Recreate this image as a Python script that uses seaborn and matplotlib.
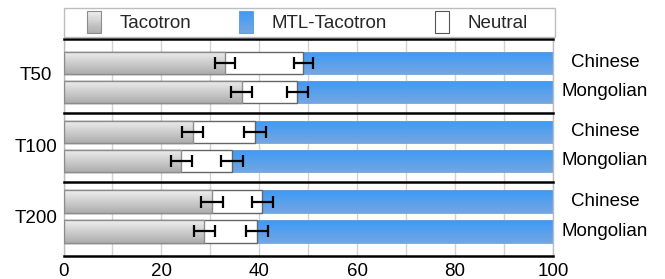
import numpy as np
import pandas as pd
import matplotlib
matplotlib.use("Agg")
import matplotlib.pyplot as plt
import seaborn as sns
from matplotlib.patches import Patch, Rectangle
from matplotlib.colors import to_rgb
from matplotlib.ticker import MultipleLocator
from matplotlib.legend_handler import HandlerBase

# ---- data ----
panels = ["T50", "T100", "T200"]
languages = ["Chinese", "Mongolian"]
tacotron = {"T50": [33.0, 36.4], "T100": [26.4, 24.1], "T200": [30.3, 28.8]}
neutral = {"T50": [16.0, 11.4], "T100": [12.7, 10.3], "T200": [10.3, 10.7]}
mtl = {"T50": [51.0, 52.2], "T100": [60.9, 65.6], "T200": [59.4, 60.5]}
err_left = {"T50": [2.1, 2.2], "T100": [2.2, 2.1], "T200": [2.2, 2.2]}
err_right = {"T50": [2.0, 2.1], "T100": [2.2, 2.2], "T200": [2.15, 2.2]}
series_labels = ["Tacotron", "MTL-Tacotron", "Neutral"]
xticks = [0, 20, 40, 60, 80, 100]

# ---- style ----
sns.set_theme(style="white")
plt.rcParams["font.family"] = ["Liberation Sans", "DejaVu Sans"]
FS = 13.5

GRAY_TOP, GRAY_BOT = "#efefef", "#adadad"
BLUE_TOP, BLUE_BOT = "#3b9af7", "#74a6e2"

W, H = 665, 279
fig = plt.figure(figsize=(W / 100, H / 100), dpi=100)
gs = fig.add_gridspec(3, 1, left=63.5 / W, right=553 / W, top=1 - 39 / H,
                      bottom=1 - 256 / H, hspace=0,
                      height_ratios=[73.7, 69.3, 74.3])
ylims = [(1.71, -0.818), (1.726, -0.67), (1.84, -0.68)]


def gradient_fill(ax, patch, top, bot, z):
    x0, y0 = patch.get_x(), patch.get_y()
    w, h = patch.get_width(), patch.get_height()
    c0, c1 = np.array(to_rgb(top)), np.array(to_rgb(bot))
    t = np.linspace(0, 1, 64)[:, None, None]
    img = c0[None, None, :] * (1 - t) + c1[None, None, :] * t
    im = ax.imshow(img, extent=(x0, x0 + w, y0 + h, y0), origin="upper",
                   aspect="auto", zorder=z, interpolation="bilinear")
    im.set_clip_path(patch)
    patch.set_facecolor("none")
    patch.set_zorder(z + 0.1)


for i, p in enumerate(panels):
    ax = fig.add_subplot(gs[i])
    tac = np.array(tacotron[p])
    neu = np.array(neutral[p])
    mt = np.array(mtl[p])
    total = tac + neu + mt
    df = pd.DataFrame({"language": languages, "total": total,
                       "neu_end": tac + neu, "tac_end": tac})

    n0 = len(ax.patches)
    sns.barplot(data=df, x="total", y="language", orient="h", color=BLUE_TOP,
                saturation=1, width=0.77, errorbar=None, ax=ax,
                edgecolor="#6a9fd8", linewidth=0.6)
    blue_patches = ax.patches[n0:]
    n1 = len(ax.patches)
    sns.barplot(data=df, x="neu_end", y="language", orient="h", color="white",
                saturation=1, width=0.77, errorbar=None, ax=ax,
                edgecolor="#666666", linewidth=1.0)
    white_patches = ax.patches[n1:]
    n2 = len(ax.patches)
    sns.barplot(data=df, x="tac_end", y="language", orient="h", color=GRAY_TOP,
                saturation=1, width=0.77, errorbar=None, ax=ax,
                edgecolor="#8c8c8c", linewidth=1.0)
    gray_patches = ax.patches[n2:]

    for bp in blue_patches:
        gradient_fill(ax, bp, BLUE_TOP, BLUE_BOT, 2)
    for wp in white_patches:
        wp.set_zorder(3)
    for gp in gray_patches:
        gradient_fill(ax, gp, GRAY_TOP, GRAY_BOT, 4)

    ypos = np.arange(len(languages))
    ax.errorbar(tac, ypos, xerr=err_left[p], fmt="none", ecolor="black",
                elinewidth=1.6, capsize=4.5, capthick=1.6, zorder=6)
    ax.errorbar(tac + neu, ypos, xerr=err_right[p], fmt="none", ecolor="black",
                elinewidth=1.6, capsize=4.5, capthick=1.6, zorder=6)

    ax.set_xlim(0, 100)
    ax.set_ylim(*ylims[i])
    ax.set_xlabel("")
    ax.set_ylabel("")
    ax.set_yticks([])
    ax.set_xticks(xticks)
    ax.xaxis.set_minor_locator(MultipleLocator(10))
    ax.grid(axis="x", which="both", color="#d2d2d2", linewidth=1.0, zorder=0)
    ax.set_axisbelow(True)
    ax.tick_params(axis="x", which="both", length=0, labelsize=FS, pad=5,
                   colors="black")
    if i < 2:
        ax.tick_params(axis="x", labelbottom=False)
        ax.spines["bottom"].set_visible(False)
    else:
        ax.spines["bottom"].set_color("black")
        ax.spines["bottom"].set_linewidth(1.8)
    ax.spines["top"].set_color("black")
    ax.spines["top"].set_linewidth(1.8)
    for s in ("left", "right"):
        ax.spines[s].set_color("#bdbdbd")
        ax.spines[s].set_linewidth(1.0)

    for j, lang in enumerate(languages):
        ax.text(1.106, j, lang, transform=ax.get_yaxis_transform(),
                ha="center", va="center", fontsize=FS, color="black")

    pos = ax.get_position()
    fig.text(36 / W, (pos.y0 + pos.y1) / 2, p, ha="center", va="center",
             fontsize=FS, color="black")


# ---- legend with gradient icons ----
class GradientHandler(HandlerBase):
    def __init__(self, top, bot, edge):
        super().__init__()
        self.top, self.bot, self.edge = top, bot, edge

    def create_artists(self, legend, orig_handle, xdescent, ydescent, width,
                       height, fontsize, trans):
        arts = []
        n = 20
        c0, c1 = np.array(to_rgb(self.top)), np.array(to_rgb(self.bot))
        for k in range(n):
            t = k / (n - 1)
            col = c0 * (1 - t) + c1 * t
            yk = -ydescent + height * (1 - (k + 1) / n)
            r = Rectangle((-xdescent, yk), width, height / n + 0.05,
                          facecolor=col, edgecolor="none", transform=trans)
            arts.append(r)
        frame = Rectangle((-xdescent, -ydescent), width, height,
                          facecolor="none", edgecolor=self.edge,
                          linewidth=0.8, transform=trans)
        arts.append(frame)
        return arts


h_tac = Patch(facecolor="#d2d2d2")
h_mtl = Patch(facecolor="#4a9ff2")
h_neu = Patch(facecolor="white")
fig.legend([h_tac, h_mtl, h_neu], series_labels, ncol=3, mode="expand",
           loc="center",
           bbox_to_anchor=(87 / W, 1 - 35 / H, (528 - 87) / W, 26 / H),
           frameon=False, fontsize=FS, handlelength=0.75, handleheight=1.45,
           handletextpad=1.0, borderaxespad=0, borderpad=0,
           handler_map={h_tac: GradientHandler(GRAY_TOP, GRAY_BOT, "#8c8c8c"),
                        h_mtl: GradientHandler(BLUE_TOP, BLUE_BOT, "#6a9fd8"),
                        h_neu: GradientHandler("white", "white", "#555555")})
fig.patches.append(Rectangle((64 / W, 1 - 37 / H), (555 - 64) / W, 29 / H,
                             transform=fig.transFigure, facecolor="none",
                             edgecolor="#bdbdbd", linewidth=1.0))

fig.savefig("out.png", dpi=100)
